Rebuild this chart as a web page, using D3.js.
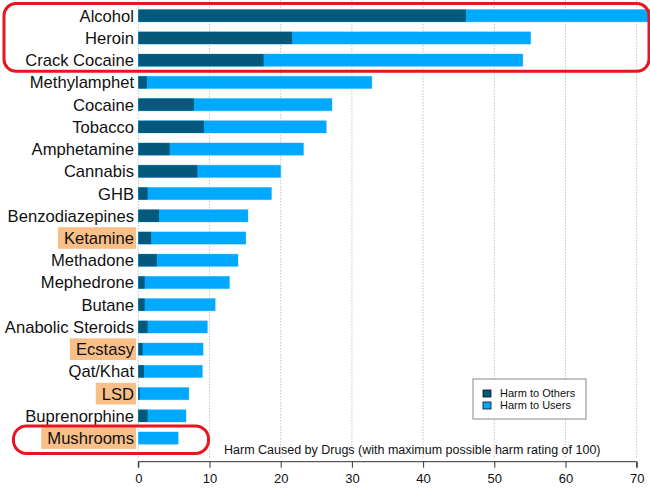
<!DOCTYPE html>
<html>
<head>
<meta charset="utf-8">
<script src="https://cdn.jsdelivr.net/npm/d3@7"></script>
<style>
  body { margin: 0; background: #fff; }
  svg { display: block; font-family: "Liberation Sans", Arial, sans-serif; }
</style>
</head>
<body>
<div id="chart"></div>
<script>
// drugs, top to bottom
const drugs = ['Alcohol', 'Heroin', 'Crack Cocaine', 'Methylamphet', 'Cocaine', 'Tobacco',
    'Amphetamine', 'Cannabis', 'GHB', 'Benzodiazepines', 'Ketamine', 'Methadone',
    'Mephedrone', 'Butane', 'Anabolic Steroids', 'Ecstasy', 'Qat/Khat', 'LSD',
    'Buprenorphine', 'Mushrooms'];
const harmOthers = [46, 21.6, 17.6, 1.2, 7.8, 9.2, 4.4, 8.3, 1.3, 2.9, 1.8, 2.6,
    0.9, 0.9, 1.3, 0.6, 0.8, 0.2, 1.3, 0];
const harmTotal = [72, 55.1, 54, 32.8, 27.2, 26.4, 23.2, 20, 18.7, 15.4, 15.1, 14,
    12.8, 10.8, 9.7, 9.1, 9, 7.1, 6.7, 5.6];
const highlighted = ['Ketamine', 'Ecstasy', 'LSD', 'Mushrooms'];
const xTicks = [0, 10, 20, 30, 40, 50, 60, 70];
const seriesNames = ['Harm to Others', 'Harm to Users'];
const titleText = 'Harm Caused by Drugs (with maximum possible harm rating of 100)';

const data = drugs.map((d, i) => ({ name: d, others: harmOthers[i], total: harmTotal[i] }));

const width = 650, height = 493;
const darkBlue = '#03587b', lightBlue = '#00a8ff';

const svg = d3.select('#chart').append('svg')
    .attr('width', width)
    .attr('height', height);

// scales
const x = d3.scaleLinear([0, 70], [138.3, 636.7]);
const y = d3.scaleBand(drugs, [4.6, 449.2]).paddingInner(0.45).paddingOuter(0.225);

// dotted grid
svg.append('g').selectAll('line')
    .data(xTicks)
    .enter().append('line')
    .attr('x1', d => x(d)).attr('x2', d => x(d))
    .attr('y1', 0).attr('y2', 458)
    .attr('stroke', '#c4c4c4')
    .attr('stroke-width', 1)
    .attr('stroke-dasharray', '1.5,1.5');

// orange label highlights
const labelX = 134;
const labels = svg.append('g');

// bars
const bars = svg.append('g').selectAll('g')
    .data(data)
    .enter().append('g');

bars.append('rect')
    .attr('x', x(0))
    .attr('y', d => y(d.name) - 0.5)
    .attr('width', d => x(d.total) - x(0) + 0.5)
    .attr('height', y.bandwidth() + 1)
    .attr('fill', '#a6ddf9');

bars.append('rect')
    .attr('x', x(0))
    .attr('y', d => y(d.name))
    .attr('width', d => x(d.total) - x(0))
    .attr('height', y.bandwidth())
    .attr('fill', lightBlue);

bars.append('rect')
    .attr('x', x(0))
    .attr('y', d => y(d.name))
    .attr('width', d => x(d.others) - x(0))
    .attr('height', y.bandwidth())
    .attr('fill', darkBlue);

// category labels
const labelText = labels.selectAll('text')
    .data(drugs)
    .enter().append('text')
    .attr('x', labelX)
    .attr('y', d => y(d) + y.bandwidth() / 2)
    .attr('dy', '0.36em')
    .attr('text-anchor', 'end')
    .attr('font-size', '16.6px')
    .attr('fill', '#111')
    .text(d => d);

labelText.each(function(d) {
    if (!highlighted.includes(d)) return;
    const w = this.getComputedTextLength();
    labels.insert('rect', 'text')
        .attr('x', labelX - w - 6)
        .attr('y', y(d) - y.step() * y.paddingInner() / 2 + 0.3)
        .attr('width', w + 8)
        .attr('height', y.step() - 0.6)
        .attr('fill', '#f8bf88');
});

// x axis
const xAxis = d3.axisBottom(x)
    .tickValues(xTicks)
    .tickSize(6)
    .tickPadding(6);

const axisG = svg.append('g')
    .attr('transform', 'translate(0, 461.7)')
    .call(xAxis);
axisG.select('.domain').attr('stroke', '#333').attr('d', `M${x(0)},6V0H${x(70)}V6`);
axisG.selectAll('.tick line').attr('stroke', '#333');
axisG.selectAll('.tick text')
    .attr('font-size', '13px')
    .attr('font-family', '"Liberation Sans", Arial, sans-serif')
    .attr('fill', '#111');

// chart caption
svg.append('text')
    .attr('x', 224)
    .attr('y', 454)
    .attr('font-size', '12.5px')
    .attr('fill', '#111')
    .text(titleText);

// legend
const legend = svg.append('g').attr('transform', 'translate(473, 379)');
legend.append('rect')
    .attr('width', 113).attr('height', 40)
    .attr('fill', '#fff')
    .attr('stroke', '#888');
const legendItem = legend.selectAll('g')
    .data(seriesNames)
    .enter().append('g')
    .attr('transform', (d, i) => `translate(10, ${11 + i * 12})`);
legendItem.append('rect')
    .attr('width', 8).attr('height', 7)
    .attr('fill', (d, i) => i === 0 ? darkBlue : lightBlue)
    .attr('stroke', '#111')
    .attr('stroke-width', 0.8);
legendItem.append('text')
    .attr('x', 17)
    .attr('y', 3.5)
    .attr('dy', '0.36em')
    .attr('font-size', '11px')
    .attr('fill', '#111')
    .text(d => d);

// red annotation outlines
const topRows = ['Alcohol', 'Crack Cocaine'];
svg.append('rect')
    .attr('x', 4)
    .attr('y', y(topRows[0]) - 6)
    .attr('width', 645)
    .attr('height', y(topRows[1]) + y.bandwidth() + 5 - (y(topRows[0]) - 6))
    .attr('rx', 12)
    .attr('fill', 'none')
    .attr('stroke', '#e8141e')
    .attr('stroke-width', 3);

svg.append('rect')
    .attr('x', 13.5)
    .attr('y', y('Mushrooms') - 6)
    .attr('width', 195)
    .attr('height', 27.5)
    .attr('rx', 13)
    .attr('fill', 'none')
    .attr('stroke', '#e8141e')
    .attr('stroke-width', 3);
</script>
</body>
</html>
